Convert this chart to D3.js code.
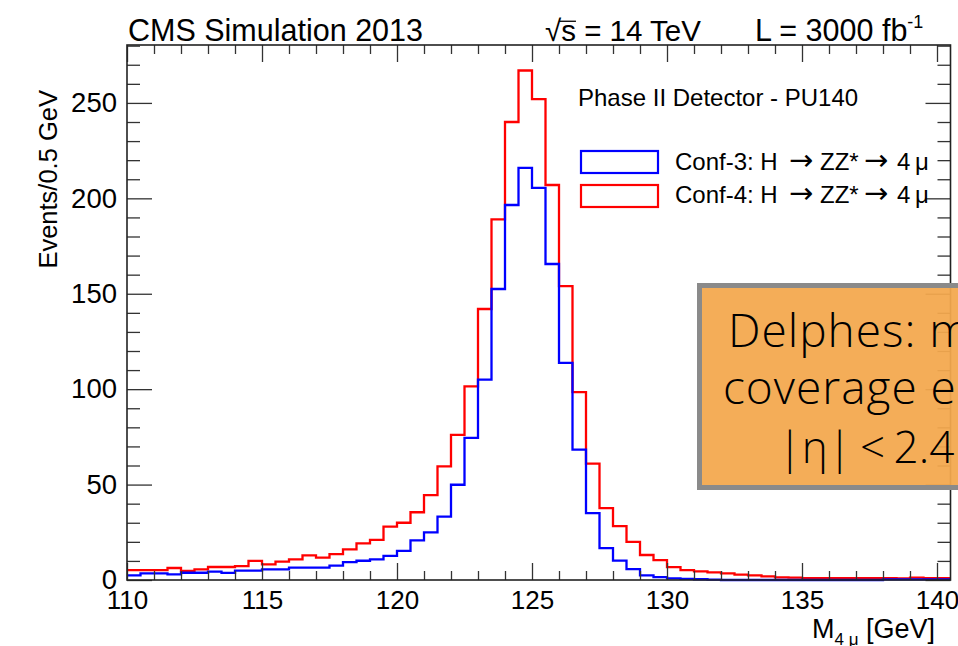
<!DOCTYPE html>
<html><head><meta charset="utf-8">
<script src="https://cdn.jsdelivr.net/npm/d3@7/dist/d3.min.js"></script>
<style>
body{margin:0;background:#fff}
svg text{font-family:"Liberation Sans",Arial,Helvetica,sans-serif;fill:#000}
</style>
</head><body>
<svg id="chart" width="958" height="646"></svg>
<script>
// ---- data ----
const binLowEdges = [110,110.5,111,111.5,112,112.5,113,113.5,114,114.5,
  115,115.5,116,116.5,117,117.5,118,118.5,119,119.5,
  120,120.5,121,121.5,122,122.5,123,123.5,124,124.5,
  125,125.5,126,126.5,127,127.5,128,128.5,129,129.5,
  130,130.5,131,131.5,132,132.5,133,133.5,134,134.5,
  135,135.5,136,136.5,137,137.5,138,138.5,139,139.5,140];
const binWidth = 0.5;
const conf4Values = [5.2,5.2,5.2,6.3,4.8,5.6,6.8,6.8,7.3,10.0,
  8.2,9.6,10.8,12.9,11.7,13.6,16.1,19.2,21.0,28.0,
  30.0,35.5,44.5,59.5,76.0,101.5,142.0,189.0,240.0,267.0,
  252.0,207.0,154.0,98.5,61.0,37.7,28.2,20.0,13.1,10.4,
  6.7,5.2,4.5,4.0,3.5,2.8,2.4,1.9,1.4,1.2,
  1.0,1.0,1.0,1.0,1.0,1.0,1.0,0.8,1.2,1.0,1.0];
const conf3Values = [2.4,3.5,3.5,3.0,3.8,3.8,4.4,3.7,4.9,4.9,
  5.6,5.6,6.5,6.5,6.5,7.5,9.4,10.1,10.8,12.6,
  15.3,20.8,25.0,33.2,49.9,74.5,105.0,152.5,196.5,216.0,
  205.5,165.6,113.8,68.3,35.0,16.7,10.2,5.7,2.4,1.5,
  0.9,0.6,0.4,0.2,0,0,0,0,0,0,
  0,0,0,0,0,0,0.3,0.3,0.3,0.3,0.3];
const xMajorTicks = [110,115,120,125,130,135,140];
const xMinorTicks = [111,112,113,114,116,117,118,119,121,122,123,124,126,127,128,129,131,132,133,134,136,137,138,139];
const yMajorTicks = [0,50,100,150,200,250];
const yMinorTicks = [10,20,30,40,60,70,80,90,110,120,130,140,160,170,180,190,210,220,230,240,260,270,280];
const seriesLabels = ["Conf-3: H","Conf-4: H"];
const decayParts = ["\u2192","ZZ*","\u2192","4","\u03bc"];
const seriesColors = ["#0000ff","#ff0000"];
const boxLines = ["Delphes: muon","coverage extended","|\u03b7| < 2.4 \u2192 4.0"];

// ---- layout ----
const L = 127, R = 950.5, T = 45, B = 580;
const svg = d3.select("#chart");
const x = d3.scaleLinear().domain([110, 140.5]).range([L, R]);
const y = d3.scaleLinear().domain([0, 280.35]).range([B, T]);

svg.append("defs").append("clipPath").attr("id","plotclip")
  .append("rect").attr("x",L).attr("y",T-2).attr("width",R-L).attr("height",B-T+4);

function histPoints(vals){
  const pts = binLowEdges.map((e,i)=>[e, vals[i]]);
  pts.push([binLowEdges[binLowEdges.length-1]+binWidth, vals[vals.length-1]]);
  return pts;
}
const line = d3.line().x(d=>x(d[0])).y(d=>y(d[1])).curve(d3.curveStepAfter);
const plot = svg.append("g").attr("clip-path","url(#plotclip)");
plot.append("path").attr("d", line(histPoints(conf4Values)))
  .attr("fill","none").attr("stroke",seriesColors[1]).attr("stroke-width",2.3);
plot.append("path").attr("d", line(histPoints(conf3Values)))
  .attr("fill","none").attr("stroke",seriesColors[0]).attr("stroke-width",2.3);

// ---- frame and ticks ----
const tickCol = "#333";
function styleTicks(g){ g.select(".domain").remove(); g.selectAll("line").attr("stroke",tickCol).attr("stroke-width",1.3); }
const ax = svg.append("g");
ax.append("g").attr("transform",`translate(0,${B})`)
  .call(d3.axisBottom(x).tickValues(xMajorTicks).tickSize(-17).tickPadding(11).tickFormat(d3.format("d")))
  .call(g=>{styleTicks(g);
    g.selectAll("text").attr("font-size",26).attr("font-family","Liberation Sans, Arial, sans-serif").attr("fill","#000");});
ax.append("g").attr("transform",`translate(0,${B})`)
  .call(d3.axisBottom(x).tickValues(xMinorTicks).tickSize(-9).tickFormat("")).call(styleTicks);
ax.append("g").attr("transform",`translate(0,${T})`)
  .call(d3.axisTop(x).tickValues(xMajorTicks).tickSize(-17).tickFormat("")).call(styleTicks);
ax.append("g").attr("transform",`translate(0,${T})`)
  .call(d3.axisTop(x).tickValues(xMinorTicks).tickSize(-9).tickFormat("")).call(styleTicks);
ax.append("g").attr("transform",`translate(${L},0)`)
  .call(d3.axisLeft(y).tickValues(yMajorTicks).tickSize(-25).tickPadding(10).tickFormat(d3.format("d")))
  .call(g=>{styleTicks(g);
    g.selectAll("text").attr("font-size",27.5).attr("font-family","Liberation Sans, Arial, sans-serif").attr("fill","#000");});
ax.append("g").attr("transform",`translate(${L},0)`)
  .call(d3.axisLeft(y).tickValues(yMinorTicks).tickSize(-13).tickFormat("")).call(styleTicks);
ax.append("g").attr("transform",`translate(${R},0)`)
  .call(d3.axisRight(y).tickValues(yMajorTicks).tickSize(-25).tickFormat("")).call(styleTicks);
ax.append("g").attr("transform",`translate(${R},0)`)
  .call(d3.axisRight(y).tickValues(yMinorTicks).tickSize(-13).tickFormat("")).call(styleTicks);
svg.append("rect").attr("x",L).attr("y",T).attr("width",R-L).attr("height",B-T)
  .attr("fill","none").attr("stroke","#222").attr("stroke-width",1.6);

// ---- axis titles ----
svg.append("text").attr("transform","translate(57,90) rotate(-90)").attr("text-anchor","end")
  .attr("font-size",25.5).text("Events/0.5 GeV");
const xt = svg.append("text").attr("x",935).attr("y",638).attr("text-anchor","end").attr("font-size",27);
xt.append("tspan").text("M");
xt.append("tspan").attr("font-size",17).attr("dy",7).text("4 \u03bc");
xt.append("tspan").attr("dy",-7).text(" [GeV]");

// ---- header ----
svg.append("text").attr("x",128).attr("y",41).attr("font-size",30.5).text("CMS Simulation 2013");
const sq = svg.append("text").attr("x",545).attr("y",41).attr("font-size",29.5).text("\u221as = 14 TeV");
{
  const e0 = sq.node().getExtentOfChar(0), e1 = sq.node().getExtentOfChar(1);
  svg.append("line").attr("x1",e0.x+e0.width-2).attr("x2",e1.x+e1.width)
    .attr("y1",e1.y+e1.height*0.22).attr("y2",e1.y+e1.height*0.22)
    .attr("stroke","#000").attr("stroke-width",1.3);
}
const lum = svg.append("text").attr("x",755).attr("y",41).attr("font-size",30.5);
lum.append("tspan").text("L = 3000 fb");
lum.append("tspan").attr("font-size",18).attr("dy",-13).text("-1");

// ---- legend ----
svg.append("text").attr("x",578).attr("y",106).attr("font-size",24).text("Phase II Detector - PU140");
const partOffsets = [114,145,189,222,240];
seriesLabels.forEach((n,i)=>{
  svg.append("rect").attr("x",581).attr("y",151+i*34).attr("width",77).attr("height",22)
    .attr("fill","none").attr("stroke",seriesColors[i]).attr("stroke-width",2.2);
  const t = svg.append("text").attr("x",675).attr("y",170+i*33).attr("font-size",24);
  t.append("tspan").text(n);
  decayParts.forEach((p,j)=>{
    const ts = t.append("tspan").attr("x",675+partOffsets[j]).text(p);
    if (p === "\u2192") ts.attr("font-family","DejaVu Sans").attr("font-size",29);
  });
});

// ---- orange annotation box ----
svg.append("rect").attr("x",699.5).attr("y",285.5).attr("width",300).attr("height",202)
  .attr("fill","#f3a84e").attr("fill-opacity",0.94).attr("stroke","#8a8a8a").attr("stroke-width",5);
const boxX = [728,723,778], boxY = [347,404,463], boxSize = [46,46,44],
      boxSpacing = [1,1,0], boxWordSpacing = [0,0,-3];
boxLines.forEach((t,i)=>{
  svg.append("text").attr("x",boxX[i]).attr("y",boxY[i]).attr("font-size",boxSize[i])
    .attr("font-weight",300).style("font-family","'Open Sans',Roboto,'Liberation Sans',sans-serif")
    .style("letter-spacing",boxSpacing[i]+"px").style("word-spacing",boxWordSpacing[i]+"px")
    .text(t);
});
</script>
</body></html>
